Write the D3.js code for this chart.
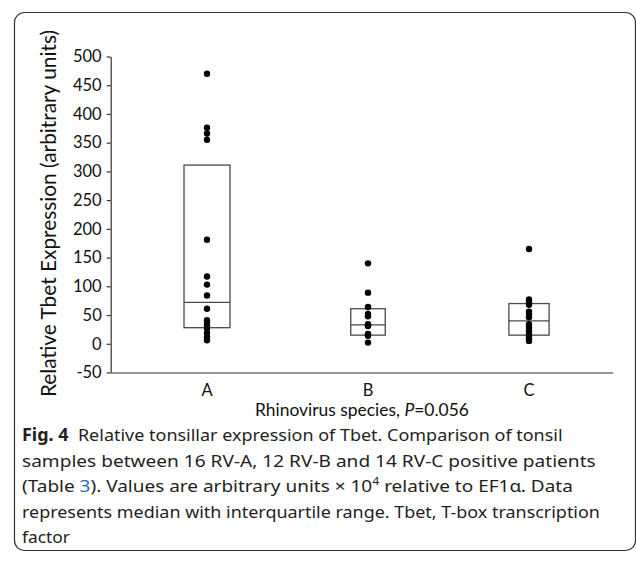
<!DOCTYPE html>
<html><head><meta charset="utf-8">
<script src="https://cdn.jsdelivr.net/npm/d3@7"></script>
<style>body{margin:0;background:#fff} svg{display:block} text{white-space:pre}</style>
</head><body><svg id="c" width="636" height="567"></svg>
<script>
// ---- data ----
const categories = ["A", "B", "C"];
const sampleCounts = [16, 12, 14];
const valuesA = [470, 376, 366, 355, 181, 117, 103, 84, 61, 41, 36, 31, 27, 19, 12, 6];
const valuesB = [140, 89, 64, 52, 48, 34, 32, 31, 17, 16, 14, 2];
const valuesC = [165, 77, 73, 68, 56, 52, 46, 34, 28, 22, 16, 13, 9, 5];
const boxQ1 = [28, 15, 15];
const boxMedian = [72, 33, 40];
const boxQ3 = [311, 61, 70];
const yTicks = [-50, 0, 50, 100, 150, 200, 250, 300, 350, 400, 450, 500];
const yTitle = "Relative Tbet Expression (arbitrary units)";
const captionLines = [
  [{t: "Fig. 4", b: true}, {t: "  Relative tonsillar expression of Tbet. Comparison of tonsil"}],
  [{t: "samples between 16 RV-A, 12 RV-B and 14 RV-C positive patients"}],
  [{t: "(Table "}, {t: "3", c: "#2f6db5"}, {t: "). Values are arbitrary units \u00d7 10"}, {t: "4", sup: true}, {t: " relative to EF1\u03b1. Data"}],
  [{t: "represents median with interquartile range. Tbet, T-box transcription"}],
  [{t: "factor"}]
];
const captionWidths = [541, 574, 551, 578, 48];

const allValues = [valuesA, valuesB, valuesC];

const svg = d3.select("#c");

// frame
svg.append("rect").attr("x", 14.5).attr("y", 12.5).attr("width", 621).attr("height", 538)
  .attr("rx", 10).attr("fill", "none").attr("stroke", "#333").attr("stroke-width", 1.2);

const y = d3.scaleLinear().domain([-50, 500]).range([372.5, 56.5]);
const x = d3.scalePoint().domain(categories).range([207, 529]);
const bw = d3.scaleLinear().domain([0, 16]).range([0, 46]);
const axisX0 = 110.7, axisX1 = 612.7;

// y axis
const yAxis = svg.append("g").attr("transform", `translate(${axisX0},0)`)
  .call(d3.axisLeft(y).tickValues(yTicks).tickFormat(d => String(d)).tickSize(4).tickPadding(5).tickSizeOuter(0));
yAxis.selectAll("path,line").attr("stroke", "#333").attr("stroke-width", 1.2);
yAxis.selectAll("text").attr("font-family", "Lato, 'Open Sans', sans-serif").attr("font-size", 16.5).attr("fill", "#111");

// x axis line
const xAxis = svg.append("g").attr("transform", `translate(0,${y(-50)})`)
  .call(d3.axisBottom(d3.scaleLinear().domain([0, 1]).range([axisX0, axisX1])).ticks(0).tickSize(0).tickSizeOuter(0));
xAxis.selectAll("path").attr("stroke", "#333").attr("stroke-width", 1.2);
xAxis.selectAll(".tick").remove();

// category labels
svg.append("g").selectAll("text").data(categories).join("text")
  .attr("x", d => x(d)).attr("y", 396)
  .attr("text-anchor", "middle").attr("font-family", "Lato, sans-serif").attr("font-size", 16.5).attr("fill", "#111")
  .text(d => d);

// boxes
const boxes = svg.append("g");
categories.forEach((c, i) => {
  const w = bw(sampleCounts[i]);
  boxes.append("rect").attr("x", x(c) - w / 2).attr("y", y(boxQ3[i]))
    .attr("width", w).attr("height", y(boxQ1[i]) - y(boxQ3[i]))
    .attr("fill", "none").attr("stroke", "#4a4a4a").attr("stroke-width", 1.3);
  boxes.append("line").attr("x1", x(c) - w / 2).attr("x2", x(c) + w / 2)
    .attr("y1", y(boxMedian[i])).attr("y2", y(boxMedian[i]))
    .attr("stroke", "#4a4a4a").attr("stroke-width", 1.3);
});

// dots
const dots = svg.append("g");
categories.forEach((c, i) => {
  dots.selectAll(null).data(allValues[i]).join("circle")
    .attr("cx", x(c)).attr("cy", d => y(d)).attr("r", 3.2).attr("fill", "#000");
});

// fit helper: scales text horizontally to a target width
function fit(textSel, tx, ty, target, anchor) {
  const w = textSel.node().getComputedTextLength();
  const s = target / w;
  const ox = anchor === "middle" ? -target / 2 : 0;
  textSel.attr("transform", `translate(${tx + ox},${ty}) scale(${s},1)`);
}

// y title
svg.append("text")
  .attr("transform", `translate(56,213.5) rotate(-90)`)
  .attr("text-anchor", "middle").attr("font-family", "Lato, sans-serif").attr("font-size", 20.5)
  .attr("textLength", 367).attr("lengthAdjust", "spacingAndGlyphs").attr("fill", "#111")
  .text(yTitle);

// x title
const xt = svg.append("text").attr("font-family", "Lato, sans-serif").attr("font-size", 17).attr("fill", "#111");
xt.append("tspan").text("Rhinovirus species, ");
xt.append("tspan").attr("font-style", "italic").text("P");
xt.append("tspan").text("=0.056");
fit(xt, 362, 416, 214, "middle");

// caption
const capBase = [441, 466.5, 492, 517.5, 543];
captionLines.forEach((parts, i) => {
  const t = svg.append("text").attr("font-family", "'Noto Sans', 'Open Sans', sans-serif").attr("font-size", 17).attr("fill", "#231f20");
  parts.forEach((p, k) => {
    const sp = t.append("tspan").text(p.t);
    if (p.b) sp.attr("font-weight", "bold");
    if (p.c) sp.attr("fill", p.c);
    if (p.sup) { sp.attr("font-size", 11).attr("dy", -7); }
    else if (k > 0 && parts[k - 1].sup) sp.attr("dy", 7);
  });
  fit(t, 22, capBase[i], captionWidths[i], "start");
});
</script></body></html>
